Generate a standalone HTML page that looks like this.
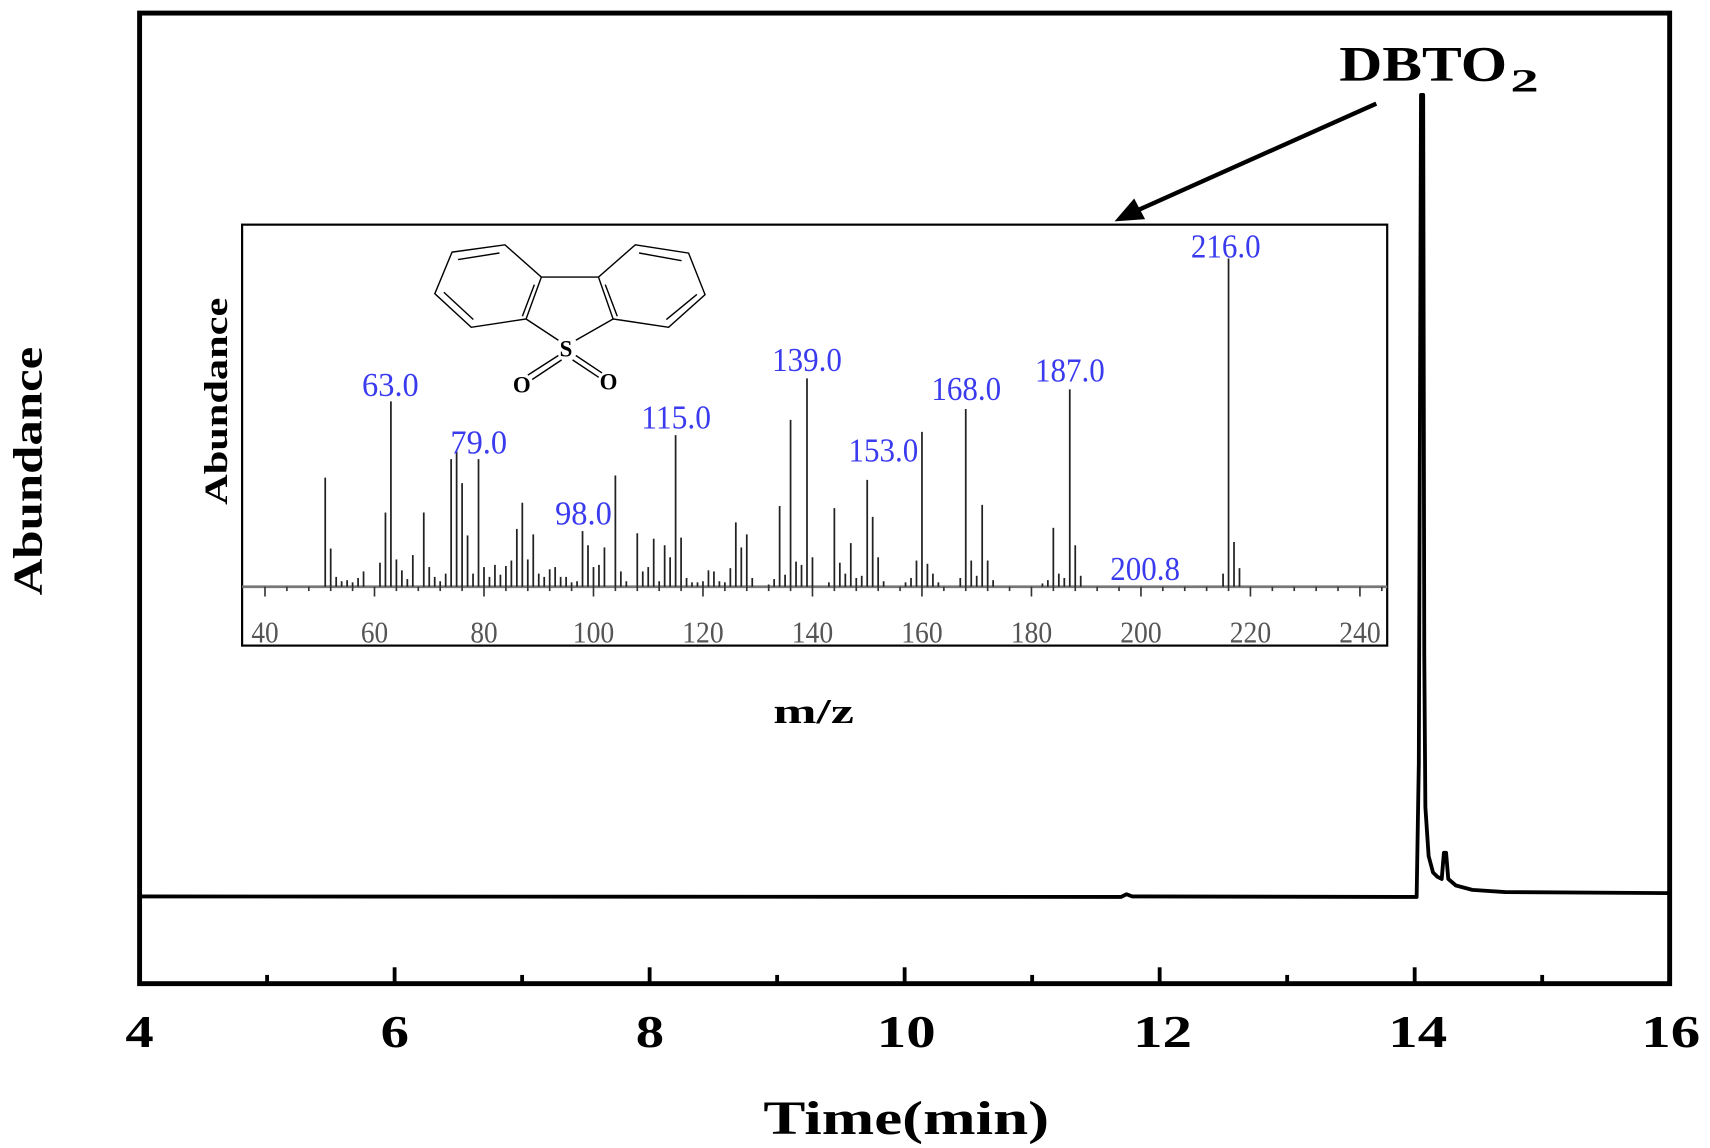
<!DOCTYPE html>
<html><head><meta charset="utf-8"><style>
html,body{margin:0;padding:0;background:#fff;width:1710px;height:1148px;overflow:hidden}
svg{display:block}
</style></head><body>
<svg id="s" width="1710" height="1148" viewBox="0 0 1568 1052.7" preserveAspectRatio="none" xmlns="http://www.w3.org/2000/svg" font-family="Liberation Serif, serif">
<rect x="128" y="12" width="1403" height="890" fill="none" stroke="#000" stroke-width="4.5"/>
<g id="ticks" stroke="#000" stroke-width="3.5"></g>
<g font-weight="bold" font-size="42" text-anchor="middle" lengthAdjust="spacingAndGlyphs">
<text x="128" y="960" textLength="26" lengthAdjust="spacingAndGlyphs">4</text><text x="362" y="960" textLength="26" lengthAdjust="spacingAndGlyphs">6</text><text x="596" y="960" textLength="26" lengthAdjust="spacingAndGlyphs">8</text>
<text x="831" y="960" textLength="54" lengthAdjust="spacingAndGlyphs">10</text><text x="1066" y="960" textLength="54" lengthAdjust="spacingAndGlyphs">12</text><text x="1300" y="960" textLength="54" lengthAdjust="spacingAndGlyphs">14</text><text x="1532" y="960" textLength="54" lengthAdjust="spacingAndGlyphs">16</text>
<text x="831" y="1040" font-size="44" textLength="262" lengthAdjust="spacingAndGlyphs">Time(min)</text>
<text transform="translate(38,432) rotate(-90)" font-size="38" textLength="228" lengthAdjust="spacingAndGlyphs">Abundance</text>
<text x="1228" y="74" text-anchor="start" font-size="46" textLength="154" lengthAdjust="spacingAndGlyphs">DBTO</text><text x="1385" y="84" text-anchor="start" font-size="30" textLength="26" lengthAdjust="spacingAndGlyphs">2</text>
</g>
<path d="M128,822 L1028,822.5 L1033,820 L1038,822 L1299,822.5 L1301,700 L1303,87 L1305,87 L1306,600 L1307,740 L1310,785 L1314,800 L1318,804 L1322,806 L1324,782 L1326,782 L1328,806 L1335,812 L1350,816 L1380,818 L1531,819" fill="none" stroke="#000" stroke-width="3.5" stroke-linejoin="round"/>
<line x1="1262" y1="95" x2="1045" y2="192" stroke="#000" stroke-width="4"/>
<polygon points="1022,203 1040,182 1050,201" fill="#000"/>
<rect x="222" y="206" width="1050" height="386" fill="#fff" stroke="#000" stroke-width="2"/>
<line x1="222" y1="538" x2="1272" y2="538" stroke="#777" stroke-width="2.5"/>
<g id="peaks" stroke="#222" stroke-width="1.6"></g>
<g id="itk" stroke="#333" stroke-width="1.5"></g>
<g id="ilab" fill="#555" font-size="28" text-anchor="middle"></g>
<g fill="#3a3aee" font-size="31" text-anchor="middle" id="blue"></g>
<text transform="translate(208,368) rotate(-90)" font-size="30" font-weight="bold" text-anchor="middle" textLength="190" lengthAdjust="spacingAndGlyphs">Abundance</text>
<text x="746" y="663" font-size="32" font-weight="bold" text-anchor="middle" textLength="74" lengthAdjust="spacingAndGlyphs">m/z</text>
<g fill="none" stroke="#000" stroke-width="1.3">
<polygon points="414.5,231.2 463,224.5 496.4,254.1 482.4,292.5 432.1,300.1 398.7,269.3"/>
<polygon points="582.5,224.5 631.4,232.1 646.5,270.2 613.1,300.1 562.2,292.5 548.8,254.1"/>
<line x1="496.4" y1="254.1" x2="548.8" y2="254.1"/>
<line x1="482.4" y1="292.5" x2="512" y2="312"/><line x1="562.2" y1="292.5" x2="528" y2="312"/>
<line x1="420" y1="238" x2="458" y2="232"/><line x1="407" y1="268" x2="434" y2="293"/>
<line x1="490" y1="261" x2="479" y2="290"/><line x1="555" y1="261" x2="566" y2="290"/>
<line x1="586" y1="232" x2="625" y2="239"/><line x1="639" y1="270" x2="611" y2="293"/>
<line x1="512" y1="326" x2="484" y2="344"/><line x1="515" y1="330" x2="488" y2="348"/>
<line x1="528" y1="326" x2="552" y2="342"/><line x1="525" y1="330" x2="549" y2="346"/>
</g>
<g font-size="21" font-weight="bold" text-anchor="middle">
<text x="519" y="327">S</text><text x="478.5" y="360">O</text><text x="558" y="357">O</text>
</g>
</svg>
<script>
var NS="http://www.w3.org/2000/svg";
function el(p,t,a,txt){var e=document.createElementNS(NS,t);for(var k in a)e.setAttribute(k,a[k]);if(txt)e.textContent=txt;document.getElementById(p).appendChild(e);}
for(var i=5;i<16;i++){var x=128+(i-4)*116.92;var L=(i%2==0)?15:8;el("ticks","line",{x1:x,y1:902,x2:x,y2:902-L});}
function mx(m){return 243+(m-40)*5.02;}
var P=[[51,100],[52,35],[53,9],[54,5],[55,6],[56,4],[57,8],[58,14],[61,22],[62,68],[63,170],[64,25],[65,15],[66,7],[67,29],[69,68],[70,18],[71,9],[72,5],[73,12],[74,117],[75,124],[76,95],[77,47],[78,12],[79,117],[80,18],[81,9],[82,20],[83,11],[84,19],[85,24],[86,53],[87,77],[88,25],[89,48],[90,12],[91,9],[92,16],[93,18],[94,9],[95,9],[96,4],[97,5],[98,51],[99,38],[100,18],[101,20],[102,36],[104,102],[105,14],[106,5],[108,49],[109,14],[110,18],[111,44],[112,5],[113,38],[114,27],[115,139],[116,45],[117,8],[118,4],[119,4],[120,5],[121,15],[122,14],[123,5],[124,4],[125,17],[126,59],[127,36],[128,48],[129,8],[132,2],[133,7],[134,74],[135,11],[136,153],[137,23],[138,20],[139,191],[140,27],[143,4],[144,72],[145,22],[146,12],[147,40],[148,8],[149,10],[150,98],[151,64],[152,27],[153,5],[157,4],[158,8],[159,24],[160,142],[161,21],[162,12],[163,4],[167,8],[168,163],[169,24],[170,10],[171,75],[172,24],[173,6],[182,3],[183,6],[184,54],[185,12],[186,8],[187,181],[188,38],[189,10],[215,12],[216,301],[217,41],[218,17]];
P.forEach(function(p){var x=mx(p[0]);el("peaks","line",{x1:x,y1:538,x2:x,y2:538-p[1]});});
for(var m=40;m<=244;m+=4){var x=mx(m);el("itk","line",{x1:x,y1:538,x2:x,y2:538+(m%20==0?9:4)});}
for(var m=40;m<=240;m+=20){el("ilab","text",{x:mx(m),y:589,textLength:(m>=100?38:25),lengthAdjust:"spacingAndGlyphs"},""+m);}
var B=[["63.0",358,363],["79.0",439,416],["98.0",535,481],["115.0",620,393],["139.0",740,340],["153.0",810,423],["168.0",886,367],["187.0",981,350],["200.8",1050,532],["216.0",1124,236]];
B.forEach(function(b){el("blue","text",{x:b[1],y:b[2],textLength:(b[0].length==4?52:64),lengthAdjust:"spacingAndGlyphs"},b[0]);});
</script>
</body></html>
